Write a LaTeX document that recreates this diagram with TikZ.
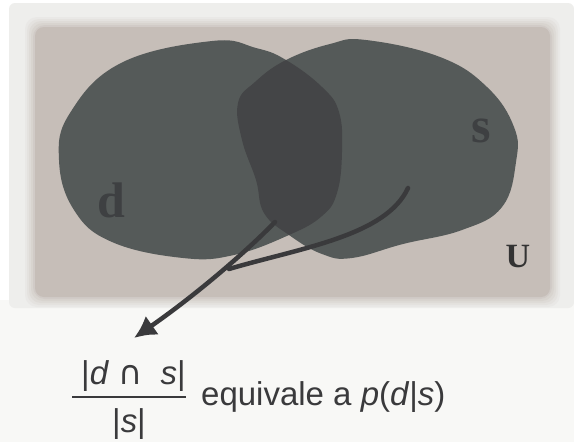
\documentclass[tikz,border=0pt]{standalone}
\usepackage{fontspec}
\setmainfont{Liberation Sans}
\newfontfamily\serifb{Liberation Serif}
\newfontfamily\symb{DejaVu Sans}
\usepackage{tikz}
\usetikzlibrary{arrows.meta}
\usepackage{xcolor}
\definecolor{panel}{HTML}{EEEEEC}
\definecolor{lower}{HTML}{F8F8F6}
\definecolor{beige}{HTML}{C6BEB8}
\definecolor{blob}{HTML}{555A59}
\definecolor{inter}{HTML}{444547}
\definecolor{ink}{HTML}{3A3A3C}
\definecolor{lbl}{HTML}{3E4042}

\begin{document}
\begin{tikzpicture}[x=1pt, y=-1pt, line cap=round,
    conn/.style={ink, line width=4.5pt},
    setlbl/.style={lbl, font=\serifb\bfseries\fontsize{50}{50}\selectfont},
    txt/.style={ink, inner sep=0pt, font=\fontsize{33}{38}\selectfont}]
    \useasboundingbox (0,0) rectangle (574,442);
    \fill[white] (0,0) rectangle (574,442);
    \fill[lower] (0,300) rectangle (574,442);
    % panel with soft shadow round the universe
    \fill[panel, rounded corners=6pt] (9,3) rectangle (574,308);
    \foreach \d/\c in {10/12, 8/25, 6/40, 4/55, 2/72}
        \fill[beige!\c!panel, rounded corners=12pt] (35-\d,27-\d) rectangle (550+\d,297+\d);
    \fill[beige, rounded corners=9pt] (35,27) rectangle (550,297);
    % the two sets
    \def\setd{plot[smooth cycle, tension=0.7] coordinates {(212,41) (256,48) (286,60) (322,87)
        (339,112) (342,152) (337,193) (322,216) (289,235) (234,255) (183,258) (112,242)
        (74,210) (59,160) (70,113) (121,63)}}
    \def\sets{plot[smooth cycle, tension=0.7] coordinates {(366,40) (440,57) (487,87)
        (514,127) (516,162) (502,207) (462,230) (403,244) (352,258) (322,254) (289,235)
        (264,213) (256,180) (242,140) (238,103) (255,82) (286,60) (330,44)}}
    \fill[blob] \setd;
    \fill[blob] \sets;
    \begin{scope}
        \clip \setd;
        \fill[inter] \sets;
    \end{scope}
    \node[setlbl] (dl) at (111,200) {d};
    \node[setlbl] (sl) at (481,131) {s};
    \node[setlbl, font=\serifb\bfseries\fontsize{34}{34}\selectfont, black!80] (ul) at (518,257) {U};
    % arrows to the formula
    \coordinate (tailint) at (275,222);
    \coordinate (tails) at (408,188);
    \coordinate (merge) at (229,269);
    \coordinate (tip) at (134,338);
    \draw[conn, -{Latex[length=22pt, width=23pt]}] (tailint) .. controls (250,248) and (200,292) .. (tip);
    \draw[conn] (tails) .. controls (386,236) and (300,248) .. (merge);
    \node[txt, anchor=base] (frac) at (129,432) {\renewcommand{\arraystretch}{1}\setlength{\arrayrulewidth}{2pt}%
        \begin{tabular}[b]{@{}c@{}}\hspace{9pt}|\textit{d} {\symb ∩}\; \textit{s}|\hspace{9pt}\\\hline\rule{0pt}{34pt}|\textit{s}|\end{tabular}};
    \node[txt, anchor=base west] (eq) at (201,405) {equivale a \textit{p}(\textit{d}|\textit{s})};
\end{tikzpicture}
\end{document}
